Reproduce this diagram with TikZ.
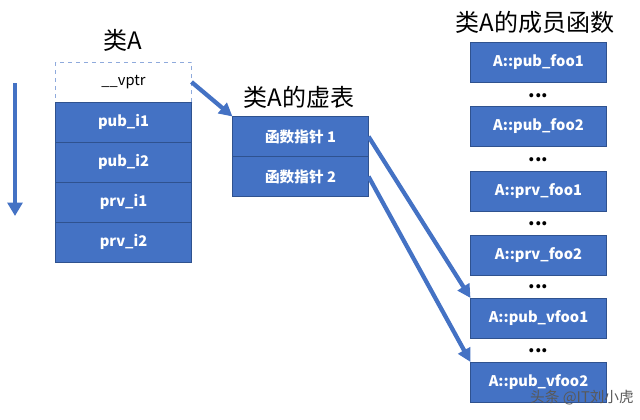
\documentclass[tikz,border=0pt]{standalone}
\usepackage{fontspec}
\setmainfont{Noto Sans CJK SC}
\usepackage{tikz}
\usetikzlibrary{positioning,arrows.meta}
\definecolor{offblue}{RGB}{68,114,196}
\definecolor{edgeblue}{RGB}{47,82,143}
\definecolor{dashblue}{RGB}{143,170,220}

\begin{document}
\begin{tikzpicture}[x=0.75pt,y=-0.75pt,
        cell/.style={rectangle, draw=edgeblue, fill=offblue, line width=0.4pt,
                     minimum width=102pt, minimum height=30pt, outer sep=0pt,
                     text=white, font=\bfseries\fontsize{11}{13}\selectfont},
        fbox/.style={cell, minimum height=30pt},
        title/.style={font=\fontsize{18}{21}\selectfont},
        dots/.style={font=\bfseries\fontsize{14}{14}\selectfont, inner sep=1pt},
        arr/.style={-{Triangle[length=10pt,width=10pt]}, line width=3.2pt, offblue}
      ]
        \useasboundingbox (0,0) rectangle (640,419);
        % class A layout
        \node[title] (tA) at (123,40) {类A};
        \node[cell, fill=white, draw=dashblue, dashed, text=black,
              font=\fontsize{11}{13}\selectfont] (vptr) at (123.5,82) {\_\_vptr};
        \node[cell, below=0pt of vptr] (pi1) {pub\_i1};
        \node[cell, below=0pt of pi1] (pi2) {pub\_i2};
        \node[cell, below=0pt of pi2] (ri1) {prv\_i1};
        \node[cell, below=0pt of ri1] (ri2) {prv\_i2};
        \coordinate (grow0) at (15,83);
        \coordinate (grow1) at (15,216);
        \draw[-{Triangle[length=10pt,width=11pt]}, line width=3.6pt, offblue]
              (grow0) -- (grow1);
        % virtual table
        \node[title] (tV) at (299,97) {类A的虚表};
        \node[cell, minimum width=102pt] (vt1) at (300.5,136.5) {函数指针 1};
        \node[cell, minimum width=102pt, below=0pt of vt1] (vt2) {函数指针 2};
        % member functions
        \node[title] (tF) at (535,22) {类A的成员函数};
        \node[fbox] (f1) at (538.5,62) {A::pub\_foo1};
        \node[dots] (d1) at (538.5,96) {...};
        \node[fbox] (f2) at (538.5,126) {A::pub\_foo2};
        \node[dots] (d2) at (538.5,160) {...};
        \node[fbox] (f3) at (538.5,191) {A::prv\_foo1};
        \node[dots] (d3) at (538.5,224) {...};
        \node[fbox] (f4) at (538.5,255) {A::prv\_foo2};
        \node[dots] (d4) at (538.5,287) {...};
        \node[fbox] (f5) at (538.5,318) {A::pub\_vfoo1};
        \node[dots] (d5) at (538.5,351) {...};
        \node[fbox] (f6) at (538.5,382) {A::pub\_vfoo2};
        \draw[arr] (vptr.east) -- (vt1.north west);
        \draw[arr] (vt1.east) -- (f5.north west);
        \draw[arr] (vt2.east) -- (f6.north west);
        \node[text=black!65, font=\fontsize{11}{12}\selectfont] (wm) at (582,398)
              {头条 @IT刘小虎};
      \end{tikzpicture}
\end{document}
